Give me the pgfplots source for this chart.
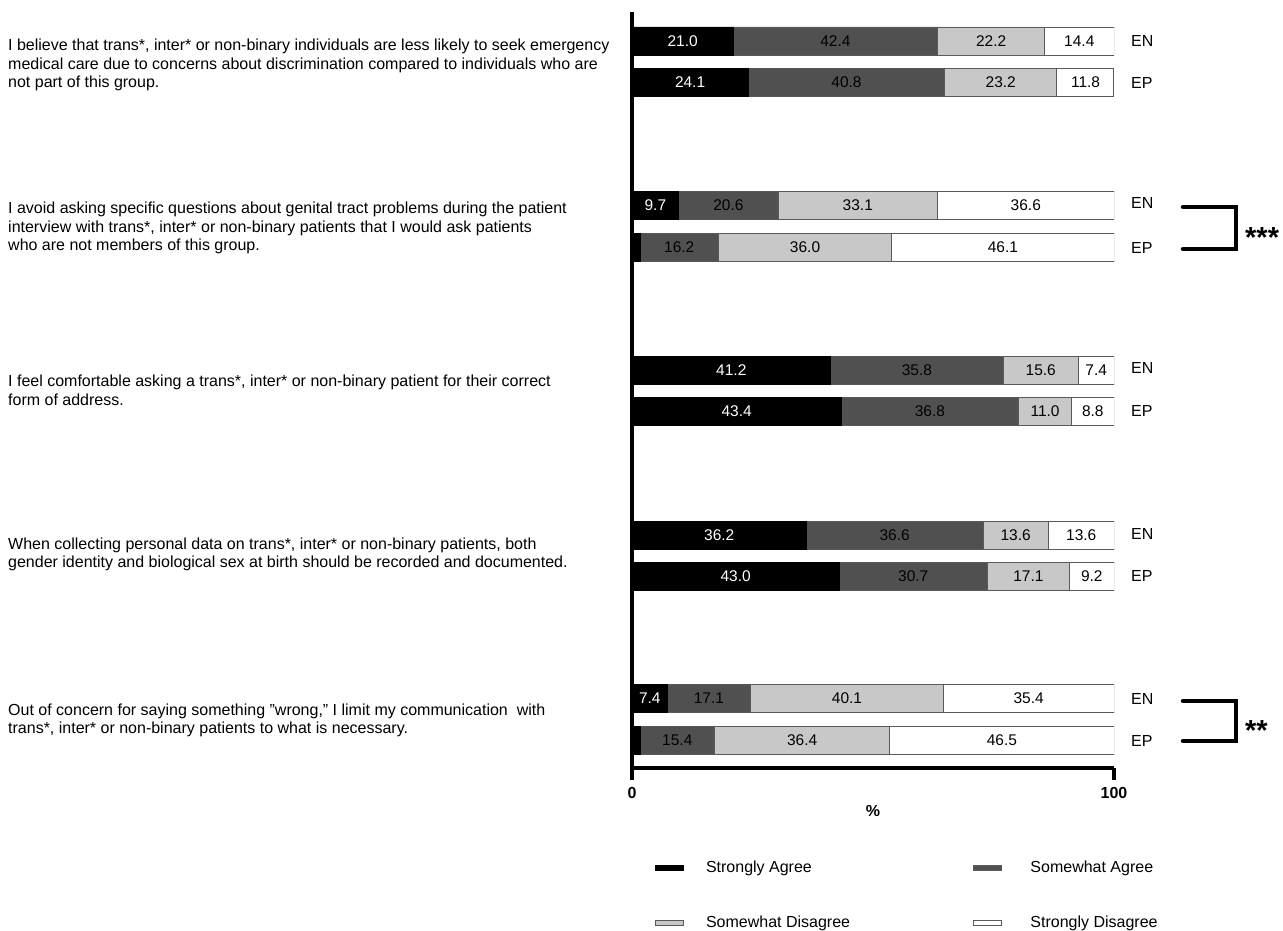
\documentclass[border=0pt]{standalone}
\usepackage{pgfplots}
\pgfplotsset{compat=1.18}
\usepackage{pgfplotstable}
\usepackage{fontspec}
\setmainfont{Liberation Sans}
\definecolor{sa}{HTML}{000000}
\definecolor{swa}{HTML}{505050}
\definecolor{swd}{HTML}{C8C8C8}
\definecolor{sd}{HTML}{FFFFFF}
\definecolor{bord}{HTML}{5A5A5A}
\newcommand{\fs}{\fontsize{16}{18.7}\selectfont}
\newcommand{\fl}{\fontsize{15.5}{18.7}\selectfont}
\pgfplotsset{
  narrowimg/.style={legend image code/.code={\draw[##1, line width=0.8pt] (0pt,-2.2pt) rectangle (28pt,2.2pt);}},
  wideimg/.style={legend image code/.code={\draw[##1, line width=0.8pt] (0pt,-2.2pt) rectangle (28pt,2.2pt); \path[draw=none, fill=none] (0pt,0pt) -- (35pt,0pt);}},
}

\pgfplotstableread{
y sa swa swd sd
-0.41 21.0 42.4 22.2 14.4
-0.825 24.1 40.8 23.2 11.8
-2.05 9.7 20.6 33.1 36.6
-2.47 1.7 16.2 36.0 46.1
-3.70 41.2 35.8 15.6 7.4
-4.11 43.4 36.8 11.0 8.8
-5.35 36.2 36.6 13.6 13.6
-5.76 43.0 30.7 17.1 9.2
-6.98 7.4 17.1 40.1 35.4
-7.40 1.7 15.4 36.4 46.5
}\bars

\pgfplotstableread{
x y label
10.5 -0.41 21.0
12.05 -0.825 24.1
4.85 -2.05 9.7
20.6 -3.70 41.2
21.7 -4.11 43.4
18.1 -5.35 36.2
21.5 -5.76 43.0
3.7 -6.98 7.4
}\whitelabels

\pgfplotstableread{
x y label
42.2 -0.41 42.4
74.5 -0.41 22.2
92.8 -0.41 14.4
44.5 -0.825 40.8
76.5 -0.825 23.2
94.1 -0.825 11.8
20.0 -2.05 20.6
46.85 -2.05 33.1
81.7 -2.05 36.6
9.8 -2.47 16.2
35.9 -2.47 36.0
76.95 -2.47 46.1
59.1 -3.70 35.8
84.8 -3.70 15.6
96.3 -3.70 7.4
61.8 -4.11 36.8
85.7 -4.11 11.0
95.6 -4.11 8.8
54.5 -5.35 36.6
79.6 -5.35 13.6
93.2 -5.35 13.6
58.35 -5.76 30.7
82.25 -5.76 17.1
95.4 -5.76 9.2
15.95 -6.98 17.1
44.6 -6.98 40.1
82.3 -6.98 35.4
9.4 -7.40 15.4
35.3 -7.40 36.4
76.75 -7.40 46.5
}\blacklabels

\begin{document}
\begin{tikzpicture}
\path[use as bounding box] (0pt,0pt) rectangle (1283pt,-931pt);

\pgfplotsset{common/.style={
  at={(632pt,-768pt)}, anchor=south west,
  scale only axis, width=482pt, height=756pt,
  xmin=0, xmax=100, ymin=-7.68, ymax=-0.12,
}}

\begin{axis}[common,
  xbar stacked, bar width=0.28,
  axis x line=bottom, axis y line=left,
  axis line style={-, line width=4.5pt, black},
  xtick={0,100}, ytick=\empty,
  tick align=outside, major tick length=12pt,
  tick style={line width=4.5pt, black},
  xticklabel style={font=\bfseries\fontsize{16}{16}\selectfont, yshift=-4pt},
  /pgf/number format/assume math mode=true,
  legend columns=2,
  legend cell align=left,
  narrowimg,
  legend style={at={(axis description cs:0.0415,-0.1177)}, anchor=north west,
    draw=none, fill=none, font=\fs, row sep=38pt,
    /tikz/every odd column/.append style={column sep=20pt},
    /tikz/every even column/.append style={column sep=121pt}},
]
\addplot[fill=sa, draw=black, line width=0.8pt] table[x=sa, y=y] {\bars};
\addplot[fill=swa, draw=bord, line width=0.8pt, wideimg] table[x=swa, y=y] {\bars};
\addplot[fill=swd, draw=bord, line width=0.8pt] table[x=swd, y=y] {\bars};
\addplot[fill=sd, draw=bord, line width=0.8pt, wideimg] table[x=sd, y=y] {\bars};
\legend{Strongly Agree, Somewhat Agree, Somewhat Disagree, Strongly Disagree}
\end{axis}

\begin{axis}[common, hide axis, clip=false]
\addplot[draw=none, mark=none, nodes near coords, point meta=explicit symbolic,
  every node near coord/.append style={anchor=center, text=white, font=\fl}]
  table[x=x, y=y, meta=label] {\whitelabels};
\addplot[draw=none, mark=none, nodes near coords, point meta=explicit symbolic,
  every node near coord/.append style={anchor=center, text=black, font=\fl}]
  table[x=x, y=y, meta=label] {\blacklabels};
\end{axis}

% x label
\node[font=\bfseries\fontsize{16}{16}\selectfont] at (873pt,-811pt) {\%};

% EN / EP labels
\foreach \yy/\tt in {41/EN, 82.5/EP, 203/EN, 248/EP, 368/EN, 411/EP, 534/EN, 576/EP, 699/EN, 741/EP}{
  \node[anchor=west, font=\fs, inner sep=0pt] at (1131pt,-\yy pt) {\tt};
}

% significance brackets
\draw[line width=4.5pt, line cap=round, line join=miter] (1183pt,-207pt) -- (1236pt,-207pt) -- (1236pt,-249pt) -- (1183pt,-249pt);
\draw[line width=4.5pt, line cap=round, line join=miter] (1183pt,-701pt) -- (1236pt,-701pt) -- (1236pt,-741pt) -- (1183pt,-741pt);
\node[anchor=base west, inner sep=0pt, font=\bfseries\fontsize{29}{29}\selectfont] at (1245pt,-247pt) {***};
\node[anchor=base west, inner sep=0pt, font=\bfseries\fontsize{29}{29}\selectfont] at (1245pt,-740pt) {**};

% questions
\node[anchor=west, align=left, font=\fs, inner sep=0pt] at (8pt,-65pt)
  {I believe that trans*, inter* or non-binary individuals are less likely to seek emergency\\medical care due to concerns about discrimination compared to individuals who are\\not part of this group.};
\node[anchor=west, align=left, font=\fs, inner sep=0pt] at (8pt,-228pt)
  {I avoid asking specific questions about genital tract problems during the patient\\interview with trans*, inter* or non-binary patients that I would ask patients\\who are not members of this group.};
\node[anchor=west, align=left, font=\fs, inner sep=0pt] at (8pt,-390pt)
  {I feel comfortable asking a trans*, inter* or non-binary patient for their correct\\form of address.};
\node[anchor=west, align=left, font=\fs, inner sep=0pt] at (8pt,-554.5pt)
  {When collecting personal data on trans*, inter* or non-binary patients, both\\gender identity and biological sex at birth should be recorded and documented.};
\node[anchor=west, align=left, font=\fs, inner sep=0pt] at (8pt,-720.5pt)
  {Out of concern for saying something "wrong," I limit my communication\ \ with\\trans*, inter* or non-binary patients to what is necessary.};
\end{tikzpicture}
\end{document}
